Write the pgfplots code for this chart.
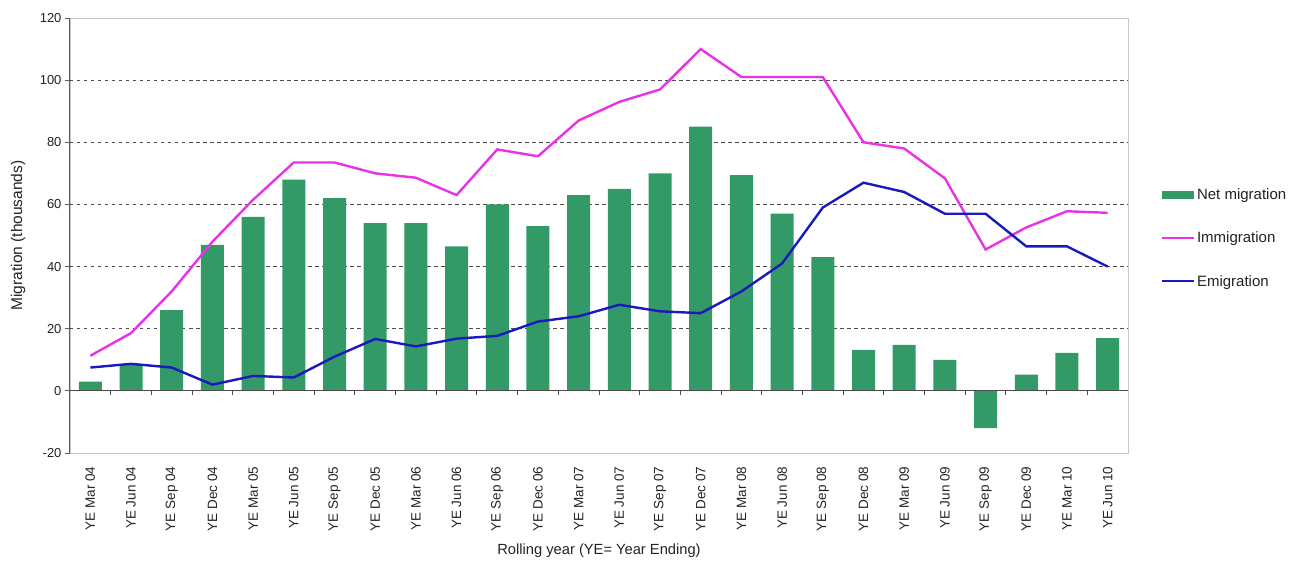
\documentclass[border=0pt]{standalone}
\usepackage{fontspec}
\setmainfont{Liberation Sans}
\usepackage{pgfplots}
\usepackage{pgfplotstable}
\pgfplotsset{compat=1.18}
\definecolor{netgreen}{RGB}{51,153,102}
\definecolor{immig}{RGB}{232,50,232}
\definecolor{emig}{RGB}{25,25,190}
\definecolor{txt}{RGB}{35,35,35}

\pgfplotstableread{
x net imm emi
0 3 11.3 7.5
1 8.4 18.6 8.7
2 26 32 7.5
3 47 48 2
4 56 61.5 4.8
5 68 73.5 4.3
6 62 73.5 11
7 54 70 16.7
8 54 68.6 14.3
9 46.5 63 16.8
10 60 77.7 17.7
11 53 75.5 22.3
12 63 87 24
13 65 93 27.7
14 70 97 25.6
15 85 110 25
16 69.4 101 32
17 57 101 41
18 43 101 59
19 13.2 80 67
20 14.8 78 64
21 10 68.4 57
22 -12 45.5 57
23 5.2 52.6 46.5
24 12.2 57.8 46.5
25 17 57.3 40
}\data

\begin{document}
\begin{tikzpicture}
\useasboundingbox (-70pt,-109pt) rectangle (1231pt,453pt);
\begin{axis}[
  scale only axis, width=1058pt, height=435pt,
  xmin=-0.5, xmax=25.5, ymin=-20, ymax=120,
  xtick={0,...,25},
  xticklabels={YE Mar 04,YE Jun 04,YE Sep 04,YE Dec 04,YE Mar 05,YE Jun 05,YE Sep 05,YE Dec 05,YE Mar 06,YE Jun 06,YE Sep 06,YE Dec 06,YE Mar 07,YE Jun 07,YE Sep 07,YE Dec 07,YE Mar 08,YE Jun 08,YE Sep 08,YE Dec 08,YE Mar 09,YE Jun 09,YE Sep 09,YE Dec 09,YE Mar 10,YE Jun 10},
  xticklabel style={rotate=90, anchor=east, font=\fontsize{13.5}{15}\selectfont, text=txt, xshift=-5pt},
  x tick style={draw=none},
  ytick={-20,0,...,120},
  ytick pos=left,
  yticklabel style={font=\fontsize{13}{15}\selectfont, text=txt},
  y tick style={black!65, line width=0.9pt},
  tick align=outside, major tick length=5pt,
  /pgf/number format/assume math mode=true,
  extra y ticks={20,40,60,80,100},
  extra y tick labels={},
  extra y tick style={grid=major, major tick length=0pt, major grid style={black!70, line width=1.1pt, dash pattern=on 3.5pt off 3.5pt}},
  axis line style={gray!45, line width=0.9pt},
  xlabel={Rolling year (YE= Year Ending)},
  xlabel style={at={(axis description cs:0.5,-0.2253)}, anchor=center, font=\fontsize{14.7}{16}\selectfont, text=txt},
  ylabel={Migration (thousands)},
  ylabel style={at={(axis description cs:-0.0491,0.5)}, anchor=center, font=\fontsize{15.5}{17}\selectfont, text=txt},
  legend style={at={(axis description cs:1.031,0.494)}, anchor=west, draw=none, fill=none, font=\fontsize{15}{17}\selectfont, text=txt, row sep=27pt, inner sep=0pt},
  legend cell align=left,
  clip=false,
]
\addplot[ybar, bar width=23pt, fill=netgreen, draw=none,
  legend image code/.code={\fill[netgreen] (0pt,-4pt) rectangle (32pt,4pt);}]
  table[x=x, y=net] {\data};
\addlegendentry{Net migration}
\addplot[immig, line width=2.4pt, no markers,
  legend image code/.code={\draw[immig, line width=2pt] (0pt,0pt) -- (32pt,0pt);}]
  table[x=x, y=imm] {\data};
\addlegendentry{Immigration}
\addplot[emig, line width=2.4pt, no markers,
  legend image code/.code={\draw[emig, line width=2pt] (0pt,0pt) -- (32pt,0pt);}]
  table[x=x, y=emi] {\data};
\addlegendentry{Emigration}
\draw[black!70, line width=1.2pt] (axis cs:-0.5,0) -- (axis cs:25.5,0);
\pgfplotsinvokeforeach{0.5,1.5,...,24.5}{
  \draw[black!70, line width=0.9pt] (axis cs:#1,0) -- ++(0pt,-4pt);
}
\draw[black!65, line width=1pt] (rel axis cs:0,0) -- (rel axis cs:0,1);
\end{axis}
\end{tikzpicture}
\end{document}
